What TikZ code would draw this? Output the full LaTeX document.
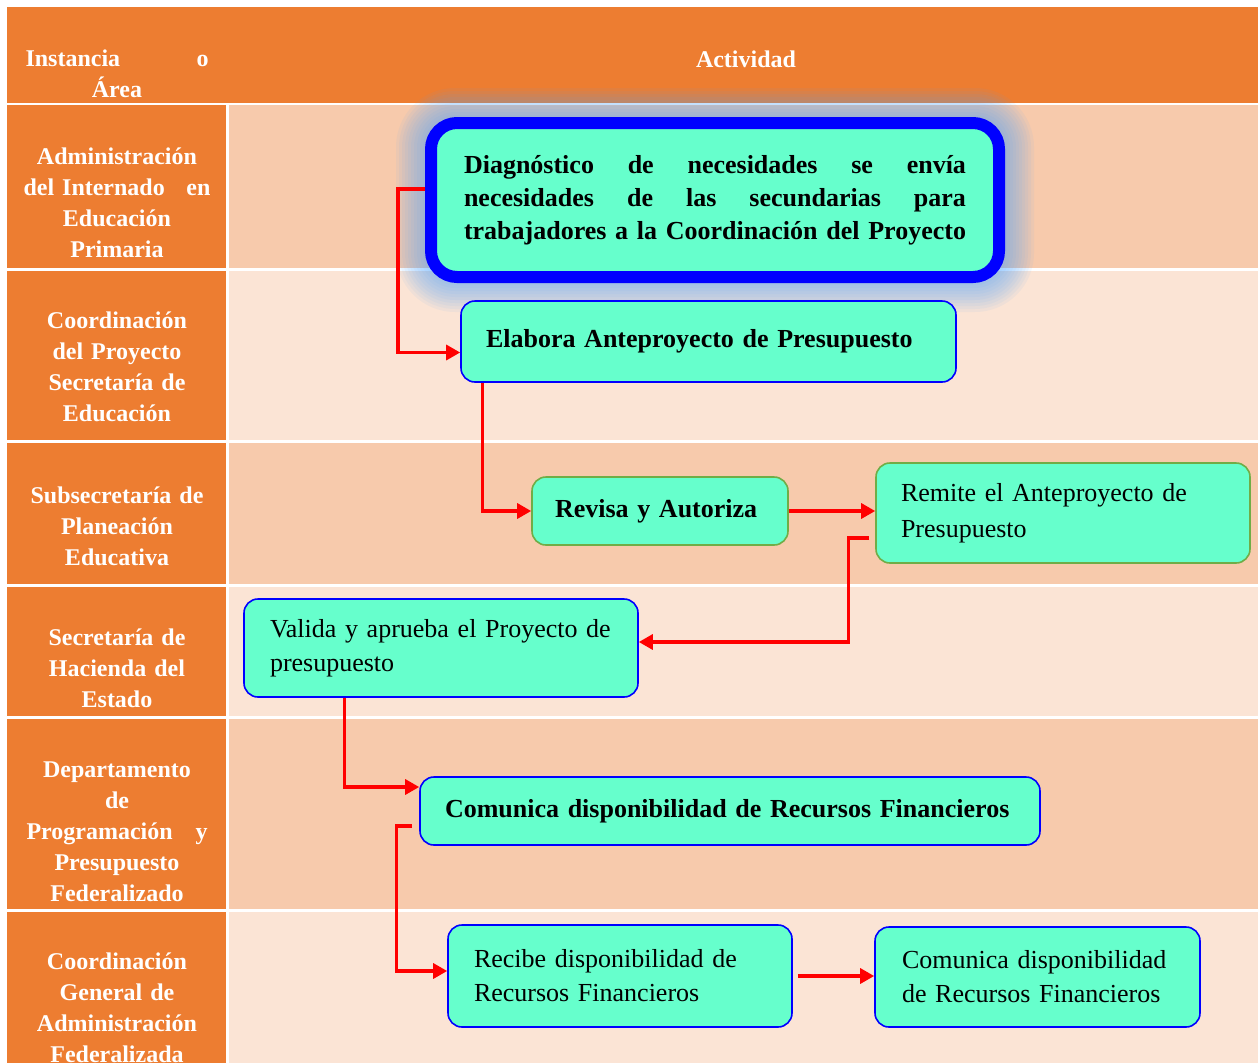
\documentclass[tikz,border=0pt]{standalone}
\usepackage{fontspec}
\setmainfont{Liberation Serif}
\usetikzlibrary{arrows.meta}
\definecolor{headorange}{RGB}{237,125,49}
\definecolor{rowdark}{RGB}{247,202,172}
\definecolor{rowlight}{RGB}{251,228,213}
\definecolor{aqua}{RGB}{102,255,204}
\definecolor{boxgreen}{RGB}{112,173,71}
\definecolor{glowblue}{RGB}{80,165,255}

\begin{document}
\begin{tikzpicture}[x=1pt, y=-1pt, >={Triangle[length=14pt,width=15pt]},
  area/.style={text=white, font=\bfseries\fontsize{24}{31}\selectfont, align=center, text width=200pt, inner sep=0pt},
  task/.style={rectangle, rounded corners=14pt, fill=aqua, draw=blue, line width=1.6pt, inner sep=0pt, align=left, font=\fontsize{26}{34}\selectfont},
  taskbold/.style={task, font=\bfseries\fontsize{26}{33}\selectfont},
  flow/.style={->, draw=red, line width=3.2pt}]
  \useasboundingbox (0,0) rectangle (1258,1063);
  \fill [headorange] (7,7) rectangle (1258,103);
  \foreach \ya/\yb/\tint in {105/268/rowdark, 271/440/rowlight, 443/584/rowdark, 587/716/rowlight, 719/909/rowdark, 912/1063/rowlight}
  {
    \fill [headorange] (7,\ya) rectangle (226,\yb);
    \fill [\tint] (229,\ya) rectangle (1258,\yb);
  }
  \node [area] (hinst) at (117,74) {\makebox[183pt]{Instancia\hfill o}\\Área};
  \node [text=white, font=\bfseries\fontsize{24}{31}\selectfont] (hact) at (746,59) {Actividad};
  \node [area] (adm) at (117,203) {Administración\\\makebox[187pt]{del Internado\hfill en}\\Educación\\Primaria};
  \node [area] (coord) at (117,367) {Coordinación\\del Proyecto\\Secretaría de\\Educación};
  \node [area] (subsec) at (117,526) {Subsecretaría de\\Planeación\\Educativa};
  \node [area] (hacienda) at (117,668) {Secretaría de\\Hacienda del\\Estado};
  \node [area] (depto) at (117,832) {Departamento\\de\\\makebox[181pt]{Programación\hfill y}\\Presupuesto\\Federalizado};
  \node [area] (cgaf) at (117,1008) {Coordinación\\General de\\Administración\\Federalizada};
  % resplandor
  \coordinate (glowc) at (715,200);
  \foreach \r [evaluate=\r as \rr using 30+\r] in {2,5,...,29}
    \fill [glowblue, opacity=0.065, rounded corners=\rr pt] ([shift={(-290-\r,-83-\r)}]glowc) rectangle ([shift={(290+\r,83+\r)}]glowc);
  \node [taskbold, line width=12pt, rounded corners=26pt, minimum width=568pt, minimum height=154pt] (diag) at (glowc)
    {\makebox[502pt][s]{Diagnóstico de necesidades se envía}\\\makebox[502pt][s]{necesidades de las secundarias para}\\\makebox[502pt][s]{trabajadores a la Coordinación del Proyecto}};
  \node [taskbold, minimum width=495pt, minimum height=81pt, text width=445pt] (elabora) at (708.5,341.5) {Elabora Anteproyecto de Presupuesto};
  \node [taskbold, draw=boxgreen, minimum width=256pt, minimum height=68pt, text width=210pt] (revisa) at (660,511) {Revisa y Autoriza};
  \node [task, draw=boxgreen, minimum width=374pt, minimum height=100pt, text width=324pt, font=\fontsize{26}{36}\selectfont] (remite) at (1063,513) {Remite el Anteproyecto de\\Presupuesto};
  \node [task, minimum width=394pt, minimum height=98pt, text width=342pt] (valida) at (441,648) {Valida y aprueba el Proyecto de\\presupuesto};
  \node [taskbold, minimum width=620pt, minimum height=68pt, text width=570pt] (comunica) at (730,811) {Comunica disponibilidad de Recursos Financieros};
  \node [task, minimum width=344pt, minimum height=102pt, text width=292pt] (recibe) at (620,976) {Recibe disponibilidad de\\Recursos Financieros};
  \node [task, minimum width=325pt, minimum height=100pt, text width=271pt] (difunde) at (1037.5,977) {Comunica disponibilidad\\de Recursos Financieros};
  % flechas
  \draw [flow] ([yshift=11pt]diag.west) -- ++(-27,0) |- ([yshift=-11pt]elabora.west);
  \draw [flow] ([xshift=22pt]elabora.south west) |- (revisa.west);
  \draw [flow] (revisa.east) -- (revisa.east -| remite.west);
  \draw [flow] ([shift={(-6pt,-25pt)}]remite.west) -- ++(-21,0) |- ([yshift=6pt]valida.east);
  \draw [flow] ([xshift=101pt]valida.south west) |- ([yshift=24pt]comunica.west);
  \draw [flow] ([shift={(-7pt,-15pt)}]comunica.west) -- ++(-16,0) |- ([yshift=5pt]recibe.west);
  \draw [flow] ([xshift=5pt]recibe.east) -- (recibe.east -| difunde.west);
\end{tikzpicture}
\end{document}
